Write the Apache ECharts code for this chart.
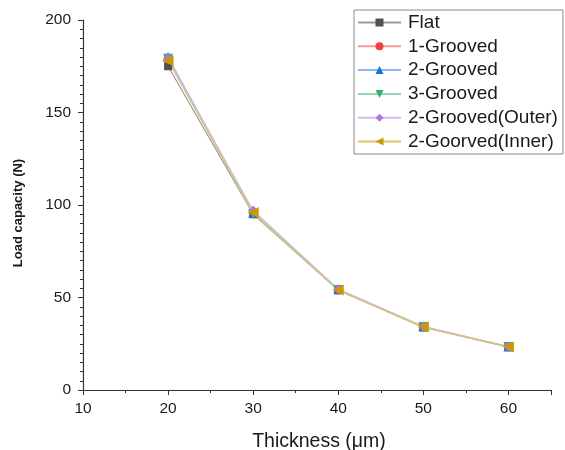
<!DOCTYPE html>
<html>
<head>
<meta charset="utf-8">
<script src="https://cdn.jsdelivr.net/npm/echarts@6/dist/echarts.min.js"></script>
<style>
  html, body { margin: 0; padding: 0; background: #fff; }
  #chart { width: 565px; height: 450px; }
</style>
</head>
<body>
<div id="chart"></div>
<script>
// Film thickness (µm) and the load capacity of each surface design
const thickness = [20, 30, 40, 50, 60];
const flat          = [175, 95, 54, 34, 23.3];
const grooved1      = [179, 96, 54, 34, 23.3];
const grooved2      = [180, 96, 54.5, 34.3, 23.5];
const grooved3      = [179, 95, 54, 34, 23.2];
const grooved2Outer = [179, 97, 54.5, 34.3, 23.5];
const grooved2Inner = [178, 96, 54, 34, 23.3];

const seriesNames = ['Flat', '1-Grooved', '2-Grooved', '3-Grooved', '2-Grooved(Outer)', '2-Goorved(Inner)'];
const seriesValues = [flat, grooved1, grooved2, grooved3, grooved2Outer, grooved2Inner];
const markerColors = ['#515151', '#F14040', '#1A6FDF', '#37AD6B', '#B177DE', '#CC9900'];
const lineColors   = ['#9a9a9a', '#f59a9a', '#8fb6ee', '#9ad4b3', '#d6b9ee', '#e0c366'];
const symbols      = ['rect', 'circle', 'triangle', 'triangle', 'diamond', 'triangle'];
const rotations    = [0, 0, 0, 180, 0, 90];
const symbolSizes  = [8, 9, 10, 10, 10, 11];

const font = '"Liberation Sans", Arial, sans-serif';

const chart = echarts.init(document.getElementById('chart'), null, { renderer: 'canvas' });

chart.setOption({
  animation: false,
  backgroundColor: '#fff',
  grid: { left: 83, right: 14, top: 20, bottom: 60, containLabel: false, outerBoundsMode: 'none' },
  legend: {
    orient: 'vertical',
    left: 354,
    top: 10,
    padding: [3, 5, 3, 3],
    itemGap: 4.8,
    itemWidth: 43,
    itemHeight: 10,
    borderColor: '#8a8a8a',
    borderWidth: 1,
    textStyle: { fontFamily: font, fontSize: 19, color: '#1a1a1a', lineHeight: 19, padding: [0, 0, 0, 2] },
    data: seriesNames
  },
  xAxis: {
    type: 'value',
    min: 10,
    max: 65,
    interval: 10,
    name: 'Thickness (μm)',
    nameLocation: 'middle',
    nameGap: 42,
    nameTextStyle: { fontFamily: font, fontSize: 19.5, color: '#1a1a1a', padding: [0, 0, 0, 4] },
    axisLine: { show: true, onZero: false, lineStyle: { color: '#333', width: 1.2 } },
    axisTick: { show: true, length: 5, lineStyle: { color: '#333' } },
    minorTick: { show: true, splitNumber: 2, length: 3, lineStyle: { color: '#333' } },
    axisLabel: { fontFamily: font, fontSize: 15.5, color: '#1a1a1a', margin: 11, showMaxLabel: false },
    splitLine: { show: false }
  },
  yAxis: {
    type: 'value',
    min: 0,
    max: 200,
    interval: 50,
    name: 'Load capacity (N)',
    nameLocation: 'middle',
    nameGap: 58,
    nameRotate: 90,
    nameTextStyle: { fontFamily: font, fontSize: 13, fontWeight: 'bold', color: '#1a1a1a', padding: [0, 16, 0, 0] },
    axisLine: { show: true, onZero: false, lineStyle: { color: '#333', width: 1.2 } },
    axisTick: { show: true, length: 5, lineStyle: { color: '#333' } },
    minorTick: { show: true, splitNumber: 10, length: 3, lineStyle: { color: '#333' } },
    axisLabel: { fontFamily: font, fontSize: 15.5, color: '#1a1a1a', margin: 12 },
    splitLine: { show: false }
  },
  series: seriesNames.map((name, i) => ({
    name: name,
    type: 'line',
    data: thickness.map((t, j) => [t, seriesValues[i][j]]),
    symbol: symbols[i],
    symbolSize: symbolSizes[i],
    symbolRotate: rotations[i],
    showAllSymbol: true,
    lineStyle: { color: lineColors[i], width: 1.2 },
    itemStyle: { color: markerColors[i], borderWidth: 0 },
    emphasis: { disabled: true }
  }))
});
</script>
</body>
</html>
